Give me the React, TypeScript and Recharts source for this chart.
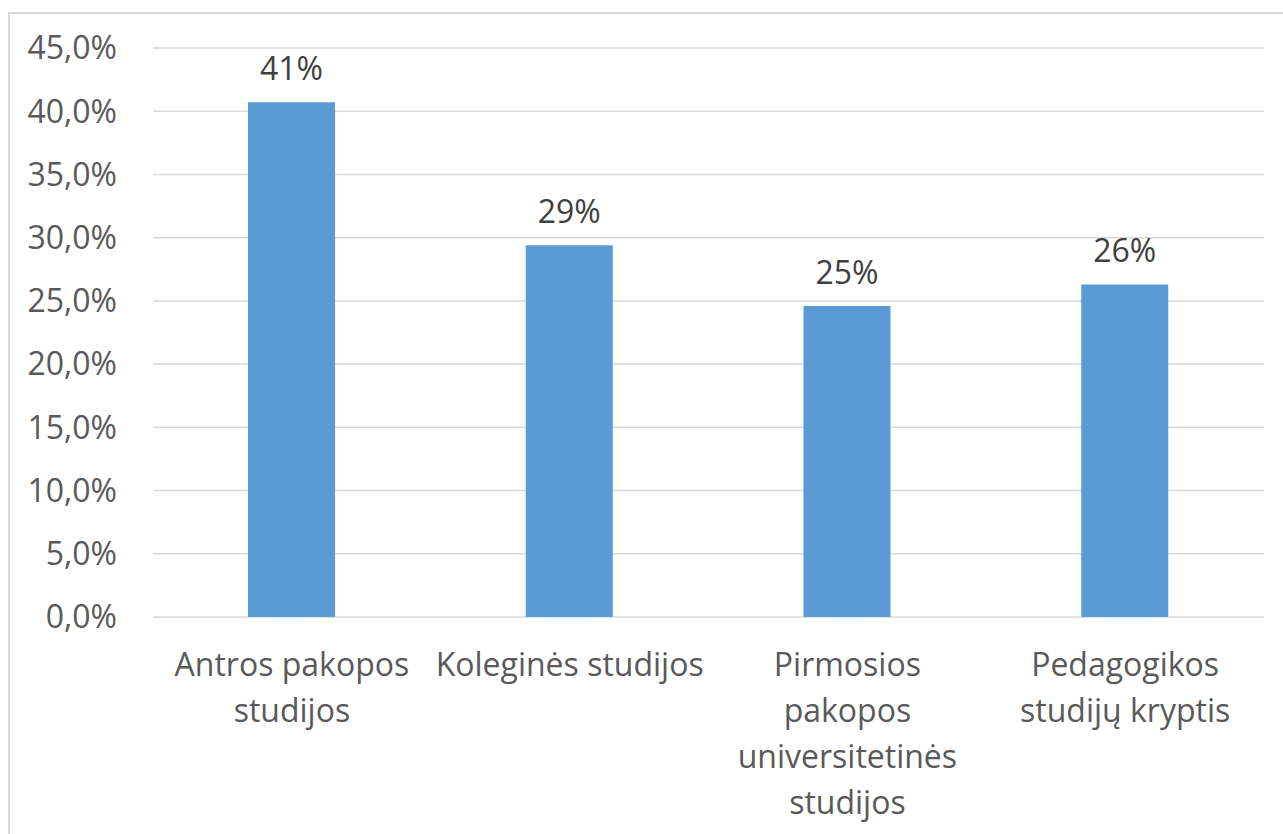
import { BarChart, Bar, XAxis, YAxis, CartesianGrid, LabelList } from "recharts";

const categories = [
  "Antros pakopos studijos",
  "Koleginės studijos",
  "Pirmosios pakopos universitetinės studijos",
  "Pedagogikos studijų kryptis",
];

// how each category label breaks into lines
const labelLines = [
  ["Antros pakopos", "studijos"],
  ["Koleginės studijos"],
  ["Pirmosios", "pakopos", "universitetinės", "studijos"],
  ["Pedagogikos", "studijų kryptis"],
];

const values = [40.7, 29.4, 24.6, 26.3];

const yTicks = [0, 5, 10, 15, 20, 25, 30, 35, 40, 45];

const data = categories.map((name, i) => ({
  name,
  value: values[i],
}));

const FONT = "'Open Sans', sans-serif";
const TEXT = "#595959";

function CategoryTick(props: any) {
  const { x, y, payload } = props;
  const idx = categories.indexOf(payload.value);
  const lines = idx >= 0 ? labelLines[idx] : [payload.value];
  return (
    <g transform={`translate(${x},${y})`}>
      <text textAnchor="middle" fill={TEXT} fontSize={32} fontFamily={FONT}>
        {lines.map((l: string, i: number) => (
          <tspan key={i} x={0} y={51 + i * 46}>
            {l}
          </tspan>
        ))}
      </text>
    </g>
  );
}

export default function App() {
  return (
    <div
      style={{
        position: "fixed",
        left: 0,
        top: 0,
        width: 1283,
        height: 834,
        background: "#fff",
        overflow: "hidden",
      }}
    >
      <div
        style={{
          position: "absolute",
          left: 8,
          top: 12,
          width: 1300,
          height: 900,
          border: "2px solid #d9d9d9",
          boxSizing: "border-box",
        }}
      />
      <BarChart
        width={1283}
        height={834}
        data={data}
        margin={{ top: 48, right: 19, bottom: 0, left: 0 }}
        style={{ position: "absolute", left: 0, top: 0 }}
      >
        <CartesianGrid vertical={false} stroke="#d9d9d9" strokeWidth={1.5} />
        <XAxis
          dataKey="name"
          axisLine={false}
          tickLine={false}
          interval={0}
          tick={<CategoryTick />}
          height={217}
        />
        <YAxis
          width={153}
          domain={[0, 45]}
          ticks={yTicks}
          interval={0}
          axisLine={false}
          tickLine={false}
          tickSize={0}
          tickMargin={36}
          tick={{ fill: TEXT, fontSize: 32, fontFamily: FONT }}
          tickFormatter={(v: number) => v.toFixed(1).replace(".", ",") + "%"}
        />
        <Bar dataKey="value" fill="#5b9bd5" barSize={87} isAnimationActive={false}>
          <LabelList
            dataKey="value"
            position="top"
            offset={22}
            fill="#404040"
            fontSize={32}
            fontFamily={FONT}
            formatter={(v: any) => Math.round(Number(v)) + "%"}
          />
        </Bar>
      </BarChart>
    </div>
  );
}
